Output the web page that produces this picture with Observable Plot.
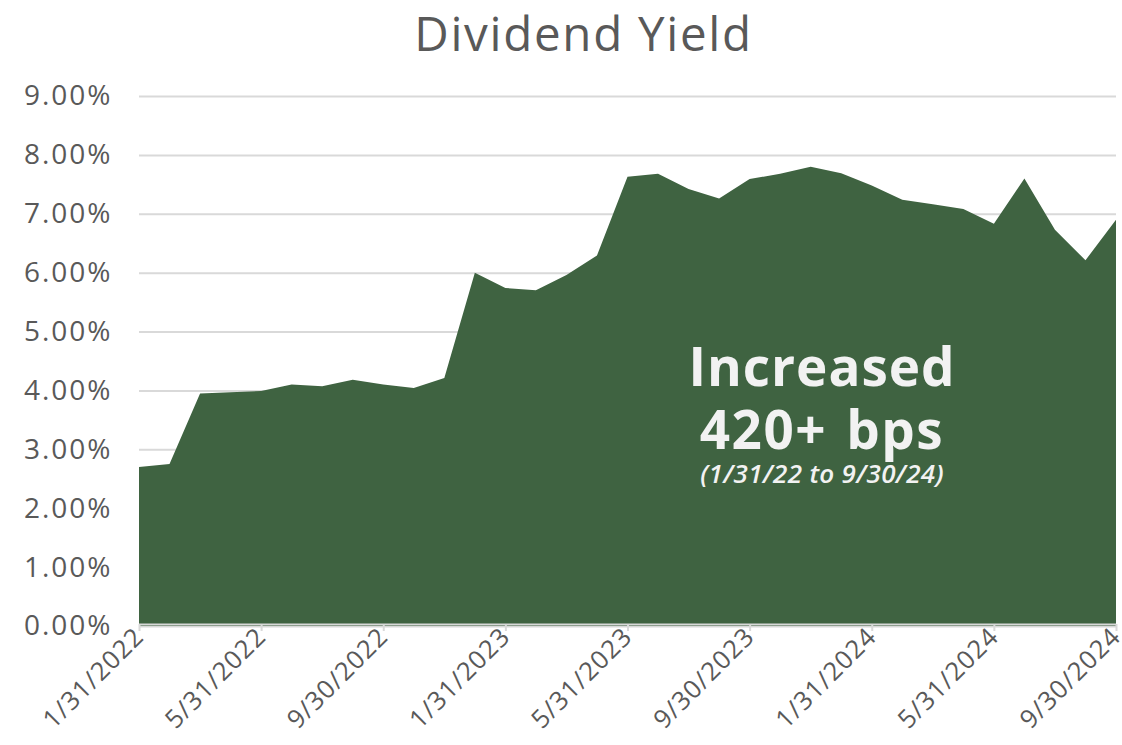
<!DOCTYPE html>
<html>
<head>
<meta charset="utf-8">
<script src="https://cdn.jsdelivr.net/npm/d3@7"></script>
<script src="https://cdn.jsdelivr.net/npm/@observablehq/plot@0.6"></script>
<style>
  html, body { margin: 0; padding: 0; background: #fff; }
  #wrap { position: relative; width: 1122px; height: 745px; overflow: hidden; font-family: "Open Sans", sans-serif; }
  #title { height: 70px; line-height: 65px; text-align: center; padding-left: 45px; box-sizing: border-box; width: 1122px;
           font-size: 47.5px; letter-spacing: 1.7px; color: #595959; font-weight: 400; }
  #note { position: absolute; left: 522px; top: 334px; width: 600px; text-align: center; color: #f2f2f2; }
  #note .big { font-size: 53px; font-weight: 700; line-height: 63px; letter-spacing: 1px; }
  #note .num { word-spacing: 4px; letter-spacing: 1.5px; }
  #note .small { font-size: 26px; font-weight: 600; font-style: italic; line-height: 27px; letter-spacing: 0.3px; }
  g[aria-label="y-axis tick label"] text { letter-spacing: 2px; }
  g[aria-label="x-axis tick label"] text { letter-spacing: 1px; }
</style>
</head>
<body>
<div id="wrap">
  <div id="title">Dividend Yield</div>
  <div id="chart"></div>
  <div id="note">
    <div class="big">Increased</div>
    <div class="big num">420+ bps</div>
    <div class="small">(1/31/22 to 9/30/24)</div>
  </div>
</div>
<script>
const dates = [
  "1/31/2022", "2/28/2022", "3/31/2022", "4/30/2022", "5/31/2022", "6/30/2022",
  "7/31/2022", "8/31/2022", "9/30/2022", "10/31/2022", "11/30/2022", "12/31/2022",
  "1/31/2023", "2/28/2023", "3/31/2023", "4/30/2023", "5/31/2023", "6/30/2023",
  "7/31/2023", "8/31/2023", "9/30/2023", "10/31/2023", "11/30/2023", "12/31/2023",
  "1/31/2024", "2/29/2024", "3/31/2024", "4/30/2024", "5/31/2024", "6/30/2024",
  "7/31/2024", "8/31/2024", "9/30/2024"
];
const yields = [
  2.70, 2.75, 3.95, 3.97, 3.99, 4.10,
  4.07, 4.18, 4.10, 4.04, 4.21, 6.00,
  5.74, 5.70, 5.96, 6.29, 7.63, 7.68,
  7.42, 7.26, 7.59, 7.68, 7.80, 7.69,
  7.48, 7.24, 7.16, 7.08, 6.83, 7.60,
  6.73, 6.21, 6.90
];
const yTicks = [0, 1, 2, 3, 4, 5, 6, 7, 8, 9];
const xTickLabels = ["1/31/2022", "5/31/2022", "9/30/2022", "1/31/2023", "5/31/2023", "9/30/2023", "1/31/2024", "5/31/2024", "9/30/2024"];

const data = dates.map((d, i) => ({i, date: d, value: yields[i]}));
const xTicks = xTickLabels.map(l => dates.indexOf(l));

const chart = Plot.plot({
  width: 1122,
  height: 675,
  marginTop: 26,
  marginBottom: 119,
  marginLeft: 139,
  marginRight: 6,
  style: {fontFamily: "Open Sans, sans-serif", color: "#595959", background: "transparent", overflow: "visible"},
  x: {type: "linear", domain: [0, dates.length - 1]},
  y: {domain: [0, 9]},
  marks: [
    Plot.gridY(yTicks, {stroke: "#d9d9d9", strokeOpacity: 1, strokeWidth: 2}),
    Plot.areaY(data, {x: "i", y: "value", fill: "#3f6341"}),
    Plot.ruleY([0], {stroke: "#d9d9d9", strokeWidth: 2, dy: -2}),
    Plot.axisY(yTicks, {tickFormat: d => d.toFixed(2) + "%", tickSize: 0, tickPadding: 27, fontSize: 28, label: null}),
    Plot.axisX(xTicks, {tickFormat: i => dates[i], tickRotate: -45, tickSize: 7, tickPadding: 1, stroke: "#d9d9d9", strokeWidth: 2, fontSize: 25.5, label: null, dy: -2})
  ]
});
document.getElementById("chart").appendChild(chart);
</script>
</body>
</html>
